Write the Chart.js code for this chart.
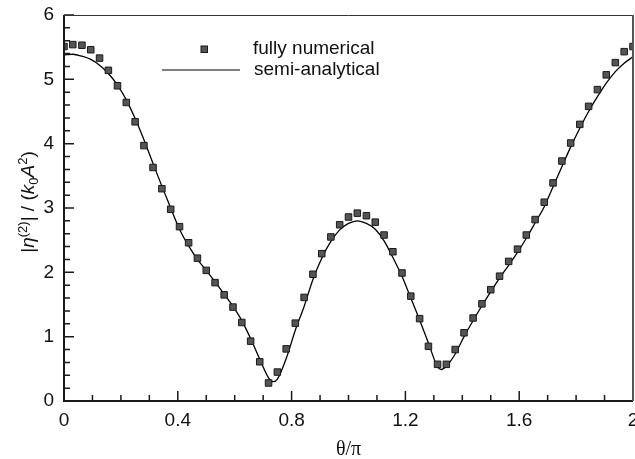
<!DOCTYPE html>
<html>
<head>
<meta charset="utf-8">
<script src="https://cdn.jsdelivr.net/npm/chart.js@4/dist/chart.umd.min.js"></script>
<style>
  html, body { margin: 0; padding: 0; background: #fff; }
</style>
</head>
<body>
<canvas id="mygraph" width="635" height="459"></canvas>
<script>
// fully numerical (squares), theta/pi
const numX = [0, 0.031, 0.063, 0.094, 0.125, 0.156, 0.188, 0.219, 0.25, 0.281, 0.313, 0.344, 0.375, 0.406, 0.438, 0.469,
  0.5, 0.531, 0.563, 0.594, 0.625, 0.656, 0.688, 0.719, 0.75, 0.781, 0.813, 0.844, 0.875, 0.906, 0.938, 0.969,
  1.0, 1.031, 1.063, 1.094, 1.125, 1.156, 1.188, 1.219, 1.25, 1.281, 1.313, 1.344, 1.375, 1.406, 1.438, 1.469,
  1.5, 1.531, 1.563, 1.594, 1.625, 1.656, 1.688, 1.719, 1.75, 1.781, 1.813, 1.844, 1.875, 1.906, 1.938, 1.969, 2.0]
const numY = [5.51, 5.54, 5.53, 5.46, 5.33, 5.14, 4.90, 4.64, 4.34, 3.97, 3.63, 3.30, 2.98, 2.71, 2.46, 2.22,
  2.03, 1.84, 1.65, 1.46, 1.22, 0.93, 0.61, 0.28, 0.45, 0.81, 1.21, 1.61, 1.97, 2.29, 2.55, 2.74,
  2.86, 2.92, 2.88, 2.78, 2.58, 2.32, 1.99, 1.63, 1.28, 0.85, 0.57, 0.57, 0.80, 1.06, 1.29, 1.51,
  1.73, 1.94, 2.17, 2.36, 2.58, 2.82, 3.09, 3.39, 3.73, 4.01, 4.30, 4.58, 4.84, 5.07, 5.26, 5.43, 5.51]

// semi-analytical (line)
const anaX = [0, 0.031, 0.063, 0.094, 0.125, 0.156, 0.188, 0.219, 0.25, 0.281, 0.313, 0.344, 0.375, 0.406, 0.438, 0.469,
  0.5, 0.531, 0.563, 0.594, 0.625, 0.656, 0.688, 0.719, 0.736, 0.75, 0.781, 0.813, 0.844, 0.875, 0.906, 0.938, 0.969,
  1.0, 1.032, 1.063, 1.094, 1.125, 1.156, 1.188, 1.219, 1.25, 1.281, 1.313, 1.326, 1.344, 1.375, 1.406, 1.438, 1.469,
  1.5, 1.531, 1.563, 1.594, 1.625, 1.656, 1.688, 1.719, 1.75, 1.781, 1.813, 1.844, 1.875, 1.906, 1.938, 1.969, 2.0]
const anaY = [5.38, 5.39, 5.36, 5.31, 5.22, 5.09, 4.91, 4.68, 4.39, 4.06, 3.69, 3.34, 3.00, 2.67, 2.41, 2.20,
  2.03, 1.85, 1.66, 1.47, 1.25, 0.97, 0.65, 0.36, 0.30, 0.34, 0.66, 1.10, 1.47, 1.89, 2.22, 2.48, 2.66,
  2.76, 2.80, 2.76, 2.67, 2.49, 2.23, 1.94, 1.60, 1.26, 0.90, 0.53, 0.49, 0.54, 0.73, 1.00, 1.25, 1.48,
  1.70, 1.91, 2.11, 2.31, 2.53, 2.77, 3.02, 3.33, 3.64, 3.95, 4.24, 4.50, 4.73, 4.94, 5.12, 5.25, 5.35]

const xTicks = [0, 0.4, 0.8, 1.2, 1.6, 2]
const xMinor = [0.1, 0.2, 0.3, 0.5, 0.6, 0.7, 0.9, 1.0, 1.1, 1.3, 1.4, 1.5, 1.7, 1.8, 1.9]
const yTicks = [0, 1, 2, 3, 4, 5, 6]
const yMinor = [0.2, 0.4, 0.6, 0.8, 1.2, 1.4, 1.6, 1.8, 2.2, 2.4, 2.6, 2.8, 3.2, 3.4, 3.6, 3.8,
  4.2, 4.4, 4.6, 4.8, 5.2, 5.4, 5.6, 5.8]

const FONT = '"Liberation Sans", Arial, sans-serif'

// frame + inward ticks + legend + y title
const axesPlugin = {
  id: 'axesPlugin',
  afterDatasetsDraw(chart) {
    const ctx = chart.ctx, xs = chart.scales.x, ys = chart.scales.y
    const {left, right, top, bottom} = chart.chartArea
    ctx.save()
    ctx.strokeStyle = '#1a1a1a'
    ctx.lineWidth = 1.5
    ctx.beginPath()
    xTicks.forEach(v => { const p = xs.getPixelForValue(v); ctx.moveTo(p, bottom); ctx.lineTo(p, bottom - 10) })
    xMinor.forEach(v => { const p = xs.getPixelForValue(v); ctx.moveTo(p, bottom); ctx.lineTo(p, bottom - 6) })
    yTicks.forEach(v => { const p = ys.getPixelForValue(v); ctx.moveTo(left, p); ctx.lineTo(left + 10, p) })
    yMinor.forEach(v => { const p = ys.getPixelForValue(v); ctx.moveTo(left, p); ctx.lineTo(left + 6, p) })
    ctx.stroke()
    // box
    ctx.lineWidth = 2
    ctx.beginPath()
    ctx.moveTo(left, top); ctx.lineTo(left, bottom); ctx.lineTo(right, bottom)
    ctx.stroke()
    ctx.strokeStyle = '#333'
    ctx.lineWidth = 1
    ctx.beginPath(); ctx.moveTo(left, top + 0.5); ctx.lineTo(right, top + 0.5); ctx.stroke()
    ctx.strokeStyle = '#555'
    ctx.lineWidth = 2
    ctx.beginPath(); ctx.moveTo(right, top); ctx.lineTo(right, bottom); ctx.stroke()

    // legend
    const lx = left + 98, ly = top + 34
    ctx.fillStyle = '#555'; ctx.strokeStyle = '#1a1a1a'; ctx.lineWidth = 1
    ctx.fillRect(lx + 39, ly - 3, 6.5, 6.5); ctx.strokeRect(lx + 39, ly - 3, 6.5, 6.5)
    ctx.strokeStyle = '#000'; ctx.lineWidth = 1.2
    ctx.beginPath(); ctx.moveTo(lx, ly + 21); ctx.lineTo(lx + 78, ly + 21); ctx.stroke()
    ctx.fillStyle = '#111'
    ctx.font = '19px ' + FONT
    ctx.textBaseline = 'middle'
    ctx.fillText('fully numerical', lx + 91, ly)
    ctx.fillText('semi-analytical', lx + 92, ly + 21)

    // y-axis title with super/subscripts
    const parts = [
      ['|', '19px ' + FONT, 0], ['η', 'italic 19px ' + FONT, 0], ['(2)', '13px ' + FONT, -7],
      ['| / (', '19px ' + FONT, 0], ['k', 'italic 19px ' + FONT, 0], ['0', '13px ' + FONT, 4],
      ['A', 'italic 19px ' + FONT, 0], ['2', '13px ' + FONT, -7], [')', '19px ' + FONT, 0]
    ]
    let total = 0
    parts.forEach(p => { ctx.font = p[1]; total += ctx.measureText(p[0]).width })
    ctx.translate(34, (top + bottom) / 2 - 6)
    ctx.rotate(-Math.PI / 2)
    ctx.textBaseline = 'alphabetic'
    let x = -total / 2
    parts.forEach(p => { ctx.font = p[1]; ctx.fillText(p[0], x, p[2]); x += ctx.measureText(p[0]).width })
    ctx.restore()
  }
}

const data = {
  datasets: [
    {
      label: 'fully numerical',
      data: numX.map((x, i) => ({x: x, y: numY[i]})),
      showLine: false,
      pointStyle: 'rect',
      pointRadius: 4.6,
      pointBackgroundColor: '#555',
      pointBorderColor: '#1a1a1a',
      pointBorderWidth: 1,
      order: 0
    },
    {
      label: 'semi-analytical',
      data: anaX.map((x, i) => ({x: x, y: anaY[i]})),
      showLine: true,
      borderColor: '#000',
      borderWidth: 1.3,
      pointRadius: 0,
      cubicInterpolationMode: 'monotone',
      order: 1
    }
  ]
}

const config = {
  type: 'scatter',
  data,
  options: {
    responsive: false,
    animation: false,
    devicePixelRatio: 1,
    layout: { autoPadding: false, padding: { left: 0, top: 15, right: 2, bottom: 0 } },
    plugins: { legend: { display: false }, tooltip: { enabled: false } },
    scales: {
      x: {
        type: 'linear', min: 0, max: 2,
        grid: { display: false, drawTicks: false },
        border: { display: false },
        afterBuildTicks: s => { s.ticks = xTicks.map(v => ({value: v})) },
        afterFit: s => { s.height = 58; s.paddingLeft = 0; s.paddingRight = 0 },
        ticks: {
          padding: 8, maxRotation: 0, autoSkip: false,
          color: '#111', font: { family: FONT, size: 19 },
          callback: v => String(+v.toFixed(1))
        },
        title: {
          display: true, text: 'θ/π', color: '#111',
          font: { family: '"Liberation Serif", serif', size: 20 },
          padding: { top: 0, bottom: -3 }
        }
      },
      y: {
        type: 'linear', min: 0, max: 6,
        grid: { display: false, drawTicks: false },
        border: { display: false },
        afterBuildTicks: s => { s.ticks = yTicks.map(v => ({value: v})) },
        afterFit: s => { s.width = 64; s.paddingTop = 0; s.paddingBottom = 0 },
        ticks: {
          padding: 10, autoSkip: false,
          color: '#111', font: { family: FONT, size: 19 }
        }
      }
    }
  },
  plugins: [axesPlugin]
}

const mygraph = new Chart(document.getElementById('mygraph'), config)
</script>
</body>
</html>
